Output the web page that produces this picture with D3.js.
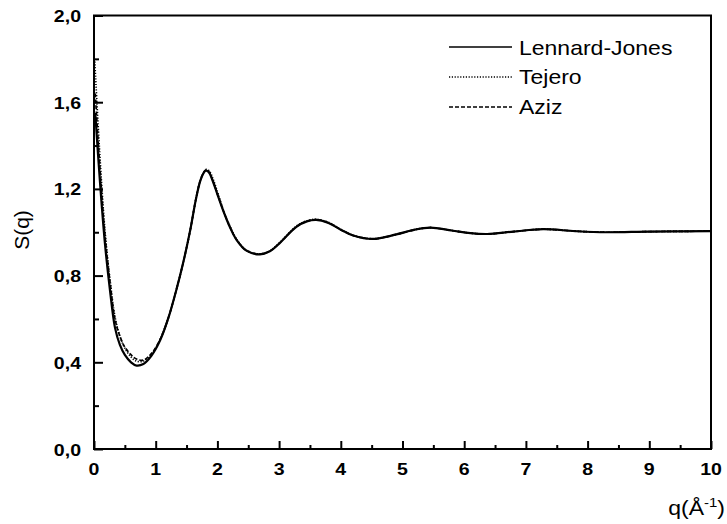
<!DOCTYPE html>
<html>
<head>
<meta charset="utf-8">
<script src="https://cdn.jsdelivr.net/npm/d3@7"></script>
<style>
  html, body { margin: 0; padding: 0; background: #fff; }
  svg { display: block; }
  text { font-family: "Liberation Sans", Arial, sans-serif; fill: #000; }
</style>
</head>
<body>
<svg id="chart" width="727" height="524"></svg>
<script>
// ---- data ----
const qLJ = [0.02,0.1,0.18,0.26,0.34,0.42,0.5,0.6,0.69,0.8,0.93,1.07,1.2,1.34,1.45,1.56,1.65,1.72,1.77,1.81,1.86,1.92,2.0,2.1,2.2,2.31,2.47,2.69,2.85,3.01,3.28,3.45,3.6,3.8,4.0,4.2,4.52,4.9,5.2,5.45,5.8,6.1,6.37,6.8,7.28,7.8,8.3,9.0,10.0];
const sLJ = [1.55,1.22,0.94,0.73,0.56,0.48,0.434,0.40,0.385,0.392,0.43,0.50,0.60,0.74,0.865,1.01,1.15,1.235,1.27,1.284,1.277,1.24,1.175,1.095,1.025,0.965,0.915,0.898,0.912,0.95,1.025,1.05,1.057,1.043,1.012,0.985,0.969,0.99,1.012,1.021,1.008,0.996,0.992,1.003,1.014,1.005,1.0,1.003,1.005];

const qTejero = [0.01,0.1,0.18,0.26,0.34,0.42,0.5,0.6,0.69,0.8,0.93,1.07,1.2,1.34,1.45,1.56,1.65,1.72,1.78,1.82,1.87,1.93,2.01,2.1,2.2,2.31,2.47,2.69,2.85,3.01,3.28,3.45,3.6,3.8,4.0,4.2,4.52,4.9,5.2,5.45,5.8,6.1,6.37,6.8,7.28,7.8,8.3,9.0,10.0];
const sTejero = [1.80,1.33,1.00,0.78,0.61,0.52,0.465,0.425,0.405,0.405,0.435,0.505,0.60,0.74,0.865,1.01,1.15,1.238,1.275,1.29,1.282,1.245,1.178,1.1,1.03,0.968,0.917,0.9,0.914,0.952,1.028,1.053,1.06,1.046,1.013,0.986,0.97,0.99,1.012,1.021,1.008,0.996,0.992,1.003,1.014,1.005,1.0,1.003,1.005];

const qAziz = [0.02,0.1,0.18,0.26,0.34,0.42,0.5,0.6,0.69,0.8,0.93,1.07,1.2,1.34,1.45,1.56,1.65,1.72,1.77,1.81,1.86,1.92,2.0,2.1,2.2,2.31,2.47,2.69,2.85,3.01,3.28,3.45,3.6,3.8,4.0,4.2,4.52,4.9,5.2,5.45,5.8,6.1,6.37,6.8,7.28,7.8,8.3,9.0,10.0];
const sAziz = [1.64,1.28,0.98,0.77,0.60,0.52,0.47,0.435,0.415,0.41,0.44,0.505,0.60,0.74,0.865,1.01,1.151,1.237,1.273,1.287,1.28,1.243,1.177,1.097,1.027,0.966,0.916,0.899,0.913,0.951,1.026,1.051,1.058,1.044,1.012,0.985,0.969,0.99,1.012,1.021,1.008,0.996,0.992,1.003,1.014,1.005,1.0,1.003,1.005];

const xTicks = [0,1,2,3,4,5,6,7,8,9,10];
const yTicks = [0,0.4,0.8,1.2,1.6,2.0];
const yTickLabels = ["0,0","0,4","0,8","1,2","1,6","2,0"];
const seriesNames = ["Lennard-Jones","Tejero","Aziz"];

// ---- layout ----
const svg = d3.select("#chart");
const L = 94, R = 711, T = 15.5, B = 449;
const x = d3.scaleLinear().domain([0,10]).range([L,R]);
const y = d3.scaleLinear().domain([0,2]).range([B,T]);
const SX = 1.15; // horizontal stretch of the scanned text

function stretchedText(g, tx, ty, str, opts) {
  const gg = g.append("g").attr("transform", `translate(${tx},${ty}) scale(${SX},1)`);
  const t = gg.append("text")
    .attr("x", 0).attr("y", 0)
    .attr("text-anchor", opts.anchor || "start")
    .attr("font-size", opts.size)
    .attr("font-weight", opts.weight || "normal")
    .text(str);
  return t;
}

// clip
svg.append("defs").append("clipPath").attr("id","clip")
  .append("rect").attr("x",L).attr("y",T).attr("width",R-L).attr("height",B-T);

// curves
const line = d3.line().x(d=>x(d[0])).y(d=>y(d[1])).curve(d3.curveCatmullRom.alpha(0.5));
const series = [
  {name: seriesNames[0], q: qLJ, s: sLJ, dash: null},
  {name: seriesNames[1], q: qTejero, s: sTejero, dash: "1.2,1.6"},
  {name: seriesNames[2], q: qAziz, s: sAziz, dash: "4,2"}
];
const plot = svg.append("g").attr("clip-path","url(#clip)");
series.slice().reverse().forEach(sr => {
  plot.append("path")
    .datum(sr.q.map((v,i)=>[v, sr.s[i]]))
    .attr("d", line)
    .attr("fill","none")
    .attr("stroke","#000")
    .attr("stroke-width", sr.dash ? 1.7 : 2.2)
    .attr("stroke-dasharray", sr.dash);
});

// axes box
svg.append("rect").attr("x",L).attr("y",T).attr("width",R-L).attr("height",B-T)
  .attr("fill","none").attr("stroke","#000").attr("stroke-width",2);

// x axis ticks (inward)
const xAxis = d3.axisBottom(x).tickValues(xTicks).tickSize(-8).tickFormat("");
const gx = svg.append("g").attr("transform",`translate(0,${B})`).call(xAxis);
gx.select(".domain").remove();
gx.selectAll(".tick line").attr("stroke","#000").attr("stroke-width",2);
const xMinor = d3.axisBottom(x).tickValues(d3.range(0.5,10,1)).tickSize(-4).tickFormat("");
const gxm = svg.append("g").attr("transform",`translate(0,${B})`).call(xMinor);
gxm.select(".domain").remove();
gxm.selectAll(".tick line").attr("stroke","#000").attr("stroke-width",2);
xTicks.forEach(v => stretchedText(svg, x(v), 475, String(v), {anchor:"middle", size:17, weight:"bold"}));

// y axis ticks (inward)
const yAxis = d3.axisLeft(y).tickValues(yTicks).tickSize(-9).tickFormat("");
const gy = svg.append("g").attr("transform",`translate(${L},0)`).call(yAxis);
gy.select(".domain").remove();
gy.selectAll(".tick line").attr("stroke","#000").attr("stroke-width",2);
const yMinor = d3.axisLeft(y).tickValues([0.2,0.6,1.0,1.4,1.8]).tickSize(-5).tickFormat("");
const gym = svg.append("g").attr("transform",`translate(${L},0)`).call(yMinor);
gym.select(".domain").remove();
gym.selectAll(".tick line").attr("stroke","#000").attr("stroke-width",2);
yTicks.forEach((v,i) => stretchedText(svg, 81, y(v)+6.5, yTickLabels[i], {anchor:"end", size:17, weight:"bold"}));

// axis titles
svg.append("text")
  .attr("transform","translate(29,230) rotate(-90)")
  .attr("text-anchor","middle")
  .attr("font-size",21)
  .text("S(q)");
const xt = stretchedText(svg, 725, 515, "", {anchor:"end", size:20});
xt.append("tspan").text("q(Å");
xt.append("tspan").attr("dy",-8).attr("font-size",13).text("-1");
xt.append("tspan").attr("dy",8).text(")");

// legend
const legY = [47, 77, 107];
const legBase = [55, 84, 114];
series.forEach((sr,i) => {
  svg.append("line")
    .attr("x1",449).attr("x2",512).attr("y1",legY[i]).attr("y2",legY[i])
    .attr("stroke","#000")
    .attr("stroke-width", sr.dash ? 1.4 : 1.6)
    .attr("stroke-dasharray", sr.dash);
  stretchedText(svg, 519, legBase[i], sr.name, {size:20});
});
</script>
</body>
</html>
